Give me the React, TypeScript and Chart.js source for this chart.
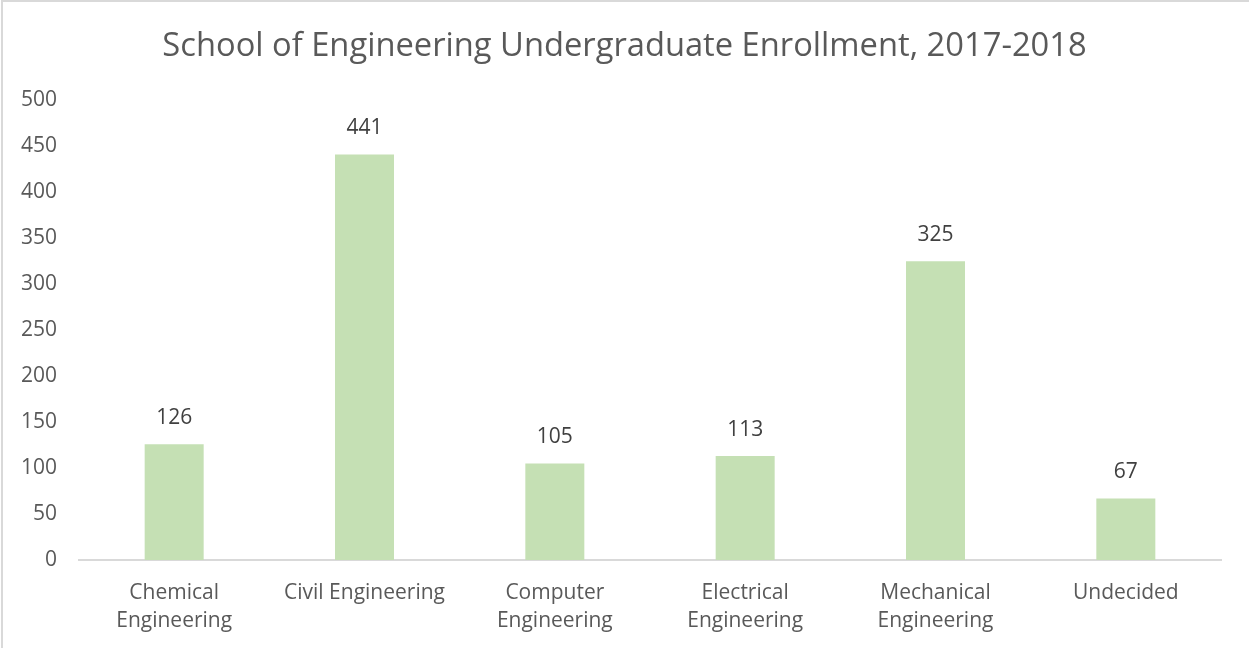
import React, { useEffect, useRef } from "react";
import { Chart, registerables } from "chart.js";

Chart.register(...registerables);

const TITLE = "School of Engineering Undergraduate Enrollment, 2017-2018";
const categories: (string | string[])[] = [
  ["Chemical", "Engineering"],
  "Civil Engineering",
  ["Computer", "Engineering"],
  ["Electrical", "Engineering"],
  ["Mechanical", "Engineering"],
  "Undecided",
];
const enrollment = [126, 441, 105, 113, 325, 67];
const yMin = 0;
const yMax = 500;
const yStep = 50;

const FONT = "'Open Sans', 'DejaVu Sans', sans-serif";

const valueLabels = {
  id: "valueLabels",
  afterDatasetsDraw(chart: any) {
    const ctx = chart.ctx;
    const meta = chart.getDatasetMeta(0);
    ctx.save();
    ctx.font = `21px ${FONT}`;
    ctx.fillStyle = "#404040";
    ctx.textAlign = "center";
    ctx.textBaseline = "middle";
    meta.data.forEach((el: any, i: number) => {
      ctx.fillText(String(chart.data.datasets[0].data[i]), el.x, el.y - 26);
    });
    ctx.restore();
  },
};

export default function App() {
  const ref = useRef<HTMLCanvasElement>(null);
  useEffect(() => {
    document.body.style.margin = "0";
    const chart = new Chart(ref.current!, {
      type: "bar",
      data: {
        labels: categories,
        datasets: [
          {
            data: enrollment,
            backgroundColor: "#C5E0B4",
            barPercentage: 0.31,
            categoryPercentage: 1,
          },
        ],
      },
      options: {
        animation: false,
        responsive: false,
        layout: { padding: 0 },
        plugins: {
          legend: { display: false },
          tooltip: { enabled: false },
          title: {
            display: true,
            text: TITLE,
            color: "#595959",
            font: { family: FONT, size: 32.7, weight: "normal", lineHeight: 1.2 },
            padding: { top: 27, bottom: 34 },
          },
        },
        scales: {
          x: {
            grid: { display: false, drawTicks: false },
            border: { display: true, color: "#d9d9d9", width: 2 },
            ticks: {
              color: "#595959",
              font: { family: FONT, size: 21, lineHeight: 1.33 },
              padding: 19,
              maxRotation: 0,
              autoSkip: false,
            },
            afterFit(scale: any) {
              scale.height = 88;
            },
          },
          y: {
            min: yMin,
            max: yMax,
            grid: { display: false, drawTicks: false },
            border: { display: false },
            ticks: {
              stepSize: yStep,
              color: "#595959",
              font: { family: FONT, size: 21 },
              padding: 22,
            },
            afterFit(scale: any) {
              scale.width = 79;
            },
          },
          yRightSpacer: {
            type: "linear",
            position: "right",
            display: true,
            grid: { display: false, drawTicks: false },
            border: { display: false },
            ticks: { display: false },
            afterFit(scale: any) {
              scale.width = 28;
            },
          },
        },
      },
      plugins: [valueLabels],
    });
    return () => chart.destroy();
  }, []);
  return (
    <div style={{ position: "relative", width: 1249, height: 648, background: "#fff" }}>
      <canvas ref={ref} width={1249} height={648} style={{ position: "absolute", left: 0, top: 0 }} />
      <div
        style={{
          position: "absolute",
          left: 1,
          top: 0,
          width: 1248,
          height: 648,
          borderLeft: "2px solid #d9d9d9",
          borderTop: "2px solid #d9d9d9",
          boxSizing: "border-box",
          pointerEvents: "none",
        }}
      />
    </div>
  );
}
